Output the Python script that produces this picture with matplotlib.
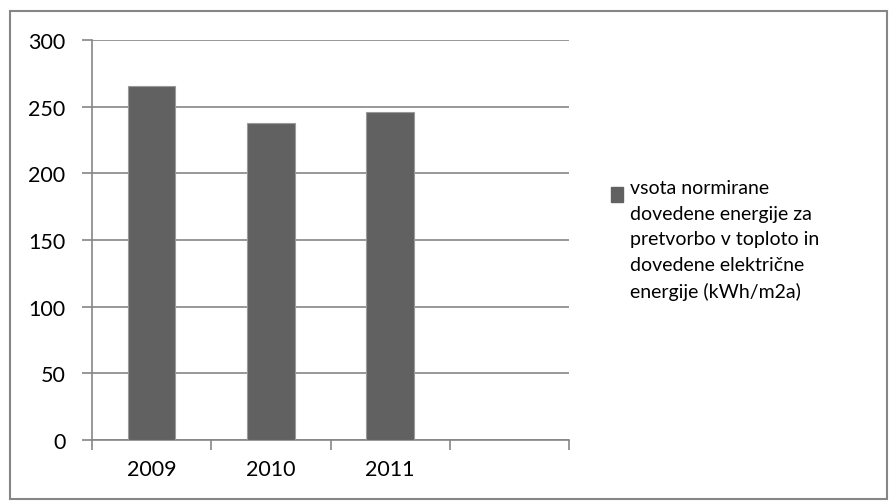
import matplotlib.pyplot as plt
from matplotlib.patches import Rectangle

# podatki
leta = ['2009', '2010', '2011', '']
vrednosti = [265.3, 237.5, 245.8]
legenda = 'vsota normirane\ndovedene energije za\npretvorbo v toploto in\ndovedene električne\nenergije (kWh/m2a)'
yticks = [0, 50, 100, 150, 200, 250, 300]

plt.rcParams['font.family'] = ['Lato', 'DejaVu Sans']
siva = '#868686'
barva = '#616161'

fig = plt.figure(figsize=(8.89, 5.02), dpi=100)
ax = fig.add_axes([92 / 889, 1 - 441 / 502, (569 - 92) / 889, 400 / 502])

x = list(range(len(vrednosti)))
ax.bar(x, vrednosti, width=0.4, color=barva, edgecolor='#9a9a9a', linewidth=0.8, zorder=3)

ax.set_xlim(-0.5, len(leta) - 0.5)
ax.set_ylim(0, 300)
ax.set_yticks(yticks)
ax.set_yticklabels([str(v) for v in yticks], fontsize=15.5)
ax.set_xticks(range(len(leta)))
ax.set_xticklabels(leta, fontsize=15.5)
ax.set_xticks([i - 0.5 for i in range(len(leta) + 1)], minor=True)

ax.grid(axis='y', color=siva, linewidth=1.2, zorder=0)
ax.tick_params(axis='x', which='major', length=0, pad=14)
ax.tick_params(axis='x', which='minor', length=7, color=siva, width=1.2)
ax.tick_params(axis='y', length=7, color=siva, width=1.2, pad=12)

for s in ['top', 'right']:
    ax.spines[s].set_visible(False)
ax.spines['left'].set_color(siva)
ax.spines['bottom'].set_color(siva)
ax.spines['left'].set_linewidth(1.2)
ax.spines['bottom'].set_linewidth(1.2)

# legenda
fig.patches.append(Rectangle((611 / 889, 1 - 203 / 502), 12 / 889, 15 / 502,
                             transform=fig.transFigure, color=barva))
fig.text(630 / 889, 1 - 180 / 502, legenda, fontsize=14, va='top', ha='left',
         linespacing=1.62)

# okvir
fig.patches.append(Rectangle((10 / 889, 1 - 500 / 502), 877 / 889, 488 / 502,
                             transform=fig.transFigure, fill=False,
                             edgecolor=siva, linewidth=1.5))

fig.savefig('out.png', dpi=100)
